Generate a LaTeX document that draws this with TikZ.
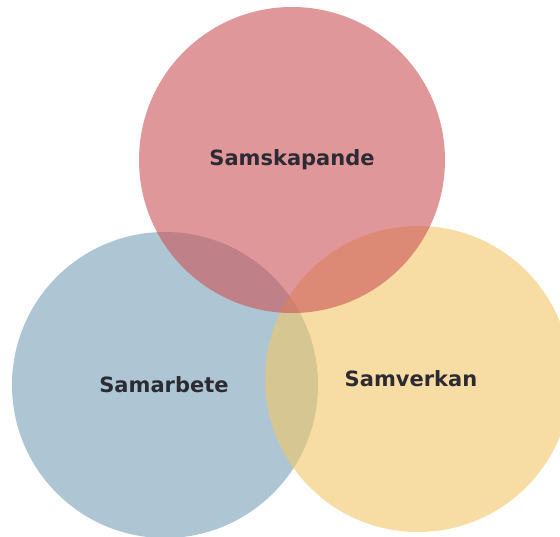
\documentclass[tikz,border=0pt]{standalone}
\usepackage{fontspec}
\setsansfont{DejaVu Sans}
\usepackage{tikz}
\usetikzlibrary{positioning}
\definecolor{rosered}{RGB}{203,82,87}
\definecolor{skyblue}{RGB}{120,160,183}
\definecolor{sandgold}{RGB}{242,198,103}
\definecolor{inkdark}{HTML}{2C2A32}

\begin{document}
\begin{tikzpicture}[
  x=1pt,y=-1pt,
  ring/.style={circle,minimum size=306pt,inner sep=0pt,fill opacity=0.6},
  word/.style={font=\sffamily\bfseries\fontsize{21}{25}\selectfont,text=inkdark,inner sep=0pt},
]
\useasboundingbox (0,0) rectangle (560,536);
\fill[white] (0,0) rectangle (560,536);

% CIRCLES (blue at the bottom, red on top)
\node[ring,fill=skyblue] (blue) at (165,385) {};
\node[ring,fill=sandgold] (yellow) at (418,379) {};
\node[ring,fill=rosered] (red) at (292,160) {};

% LABELS
\node[word] (skap) at (red.center) {Samskapande};
\node[word] (arb) at ([xshift=-1pt]blue.center) {Samarbete};
\node[word] (verk) at ([xshift=-7pt]yellow.center) {Samverkan};
\end{tikzpicture}
\end{document}
